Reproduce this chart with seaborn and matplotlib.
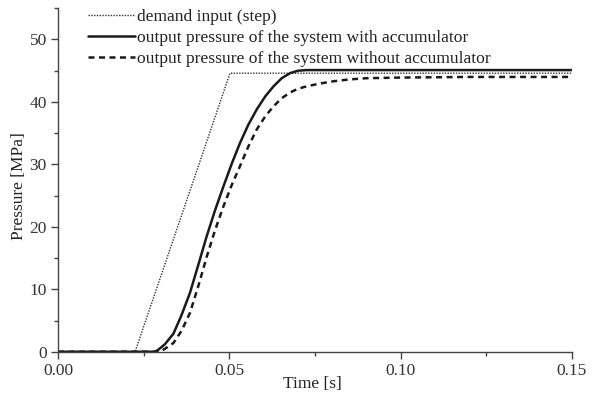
import matplotlib
matplotlib.use("Agg")
import matplotlib.pyplot as plt
import seaborn as sns
import numpy as np
import pandas as pd
from matplotlib.ticker import MultipleLocator

sns.set_theme(style="ticks")
plt.rcParams['font.family'] = ['Liberation Serif', 'DejaVu Serif']

# demand input (step / ramp)
t_demand = [0.0, 0.0225, 0.0502, 0.15]
p_demand = [0.0, 0.0, 44.6, 44.6]

# with accumulator
t_with = [0.0, 0.0280, 0.0290, 0.0312, 0.0337, 0.0360, 0.0385, 0.0410, 0.0434, 0.0458,
          0.0483, 0.0507, 0.0531, 0.0555, 0.0580, 0.0605, 0.0629, 0.0653, 0.0677, 0.0700,
          0.0726, 0.0760, 0.0800, 0.1000, 0.1500]
p_with = [0.0, 0.0, 0.2, 1.2, 2.9, 5.8, 9.4, 14.0, 18.5, 22.6,
          26.5, 30.1, 33.4, 36.3, 38.8, 40.9, 42.5, 43.8, 44.6, 45.0,
          45.1, 45.1, 45.1, 45.1, 45.1]

# without accumulator
t_without = [0.0, 0.0295, 0.0310, 0.0337, 0.0360, 0.0385, 0.0410, 0.0434, 0.0458, 0.0483,
             0.0507, 0.0531, 0.0555, 0.0580, 0.0605, 0.0629, 0.0653, 0.0677, 0.0700, 0.0726,
             0.0760, 0.0803, 0.0850, 0.0900, 0.1000, 0.1200, 0.1500]
p_without = [0.0, 0.0, 0.4, 1.4, 3.3, 6.2, 10.6, 15.2, 19.4, 23.3,
             26.7, 29.7, 32.8, 35.6, 37.7, 39.3, 40.6, 41.5, 42.1, 42.5,
             42.9, 43.3, 43.6, 43.8, 43.9, 44.0, 44.0]

labels = ["demand input (step)",
          "output pressure of the system with accumulator",
          "output pressure of the system without accumulator"]

fig = plt.figure(figsize=(5.96, 3.93), dpi=100)
ax = fig.add_axes([0.0973, 0.105, 0.8624, 0.874])

sns.lineplot(x=t_demand, y=p_demand, ax=ax, color="#333333", lw=1.0,
             linestyle=(0, (1, 1)), label=labels[0])
sns.lineplot(x=t_with, y=p_with, ax=ax, color="#1a1a1a", lw=1.8,
             linestyle="-", label=labels[1])
sns.lineplot(x=t_without, y=p_without, ax=ax, color="#1a1a1a", lw=1.8,
             linestyle=(0, (2.4, 1.8)), label=labels[2])

ax.set_xlim(0, 0.15)
ax.set_ylim(0, 55)
ax.xaxis.set_major_locator(MultipleLocator(0.05))
ax.xaxis.set_minor_locator(MultipleLocator(0.025))
ax.yaxis.set_major_locator(MultipleLocator(10))
ax.yaxis.set_minor_locator(MultipleLocator(5))
ax.set_xticklabels([f"{v:.2f}" for v in ax.get_xticks()])
ax.set_xlim(0, 0.15)

for s in ["top", "right"]:
    ax.spines[s].set_visible(False)
for s in ["left", "bottom"]:
    ax.spines[s].set_color("#444444")
    ax.spines[s].set_linewidth(1.0)

ax.tick_params(which="major", direction="out", length=5, width=1.0, color="#444444",
               labelsize=12.5, labelcolor="#333333", pad=3)
ax.tick_params(which="minor", direction="out", length=3, width=1.0, color="#444444")

ax.set_xlabel("Time [s]", fontsize=12.5, color="#222222")
ax.set_ylabel("Pressure [MPa]", fontsize=12.5, color="#222222")
ax.xaxis.set_label_coords(0.495, -0.07)
ax.yaxis.set_label_coords(-0.06, 0.481)

leg = ax.legend(loc="upper left", bbox_to_anchor=(0.058, 0.998), frameon=False,
                fontsize=12.6, handlelength=2.7, handletextpad=0.12,
                labelspacing=0.26, borderaxespad=0, borderpad=0)
for txt in leg.get_texts():
    txt.set_color("#222222")

fig.savefig("out.png", dpi=100)
